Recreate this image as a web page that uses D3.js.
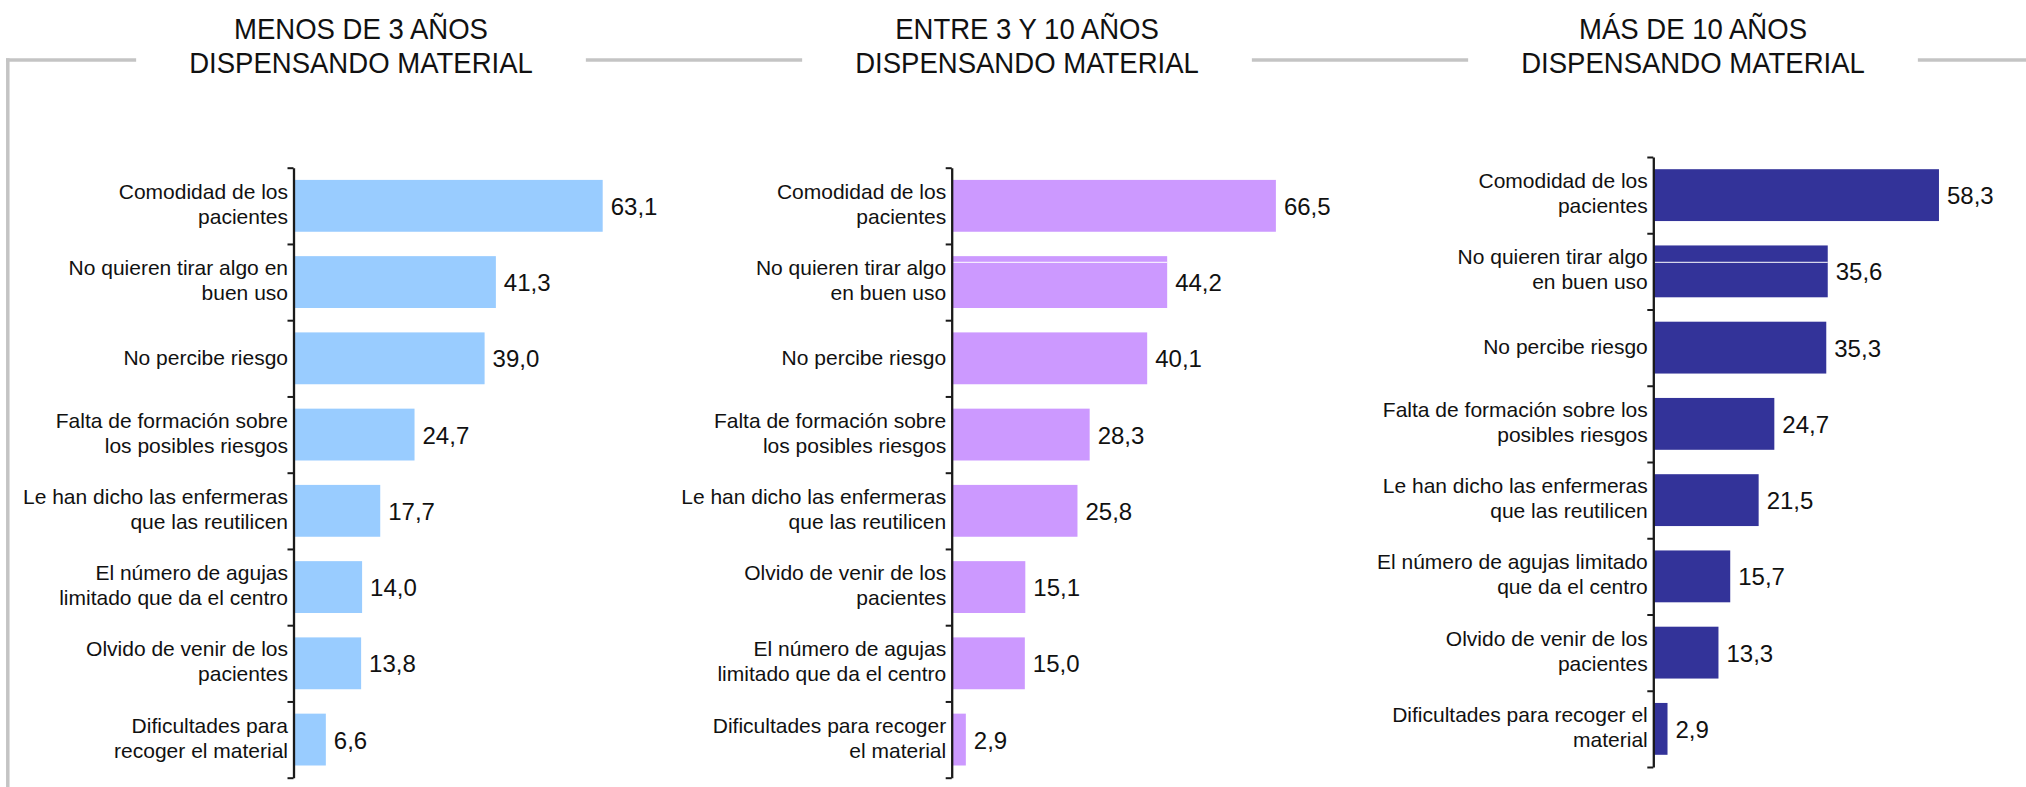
<!DOCTYPE html>
<meta charset="utf-8">
<style>
body{ margin:0; background:#fff; }
svg{ display:block; }
.cat, .val, .ttl{ font-family:"Liberation Sans", Arial, sans-serif; fill:#111; }
.cat{ font-size:21px; }
.val{ font-size:24px; }
.ttl{ font-size:29px; }
</style>
<body>
<script src="https://d3js.org/d3.v7.min.js"></script>
<script>
// panel titles
var titles1 = ["MENOS DE 3 AÑOS", "DISPENSANDO MATERIAL"];
var titles2 = ["ENTRE 3 Y 10 AÑOS", "DISPENSANDO MATERIAL"];
var titles3 = ["MÁS DE 10 AÑOS", "DISPENSANDO MATERIAL"];

// categories ("|" = line break), each panel has its own order
var cats1 = ["Comodidad de los|pacientes", "No quieren tirar algo en|buen uso", "No percibe riesgo",
  "Falta de formación sobre|los posibles riesgos", "Le han dicho las enfermeras|que las reutilicen",
  "El número de agujas|limitado que da el centro", "Olvido de venir de los|pacientes",
  "Dificultades para|recoger el material"];
var cats2 = ["Comodidad de los|pacientes", "No quieren tirar algo|en buen uso", "No percibe riesgo",
  "Falta de formación sobre|los posibles riesgos", "Le han dicho las enfermeras|que las reutilicen",
  "Olvido de venir de los|pacientes", "El número de agujas|limitado que da el centro",
  "Dificultades para recoger|el material"];
var cats3 = ["Comodidad de los|pacientes", "No quieren tirar algo|en buen uso", "No percibe riesgo",
  "Falta de formación sobre los|posibles riesgos", "Le han dicho las enfermeras|que las reutilicen",
  "El número de agujas limitado|que da el centro", "Olvido de venir de los|pacientes",
  "Dificultades para recoger el|material"];

// percentages
var vals1 = [63.1, 41.3, 39.0, 24.7, 17.7, 14.0, 13.8, 6.6];
var vals2 = [66.5, 44.2, 40.1, 28.3, 25.8, 15.1, 15.0, 2.9];
var vals3 = [58.3, 35.6, 35.3, 24.7, 21.5, 15.7, 13.3, 2.9];

var W = 2026, H = 787;
var TSX = 0.95;   // title squeeze
var fmt = function(v){ return d3.format(".1f")(v).replace(".", ","); };

var svg = d3.select("body").append("svg")
  .attr("width", W)
  .attr("height", H);

var panels = [
  {titles: titles1, cats: cats1, vals: vals1, color: "#99ccff", ax: 293.5, top: 167.7, w: 490, tx: 361, rule: false},
  {titles: titles2, cats: cats2, vals: vals2, color: "#cc99ff", ax: 951.7, top: 167.7, w: 487.5, tx: 1027, rule: true},
  {titles: titles3, cats: cats3, vals: vals3, color: "#333399", ax: 1653.3, top: 157, w: 490, tx: 1693, rule: true}
];

var frameY = 60;
var ruleY = 262.3;   // thin white rule seen across the second bars
var gaps = [];

panels.forEach(function(p){
  var n = p.cats.length;
  var band = 76.25;

  // title
  var tg = svg.append("g").attr("transform", "translate(" + p.tx + ",38.5) scale(" + TSX + ",1)");
  var t = tg.append("text").attr("class", "ttl").attr("text-anchor", "middle");
  t.selectAll("tspan").data(p.titles).enter().append("tspan")
    .attr("x", 0)
    .attr("dy", function(d, i){ return i ? 34.5 : 0; })
    .text(function(d){ return d; });
  var bb = t.node().getBBox();
  gaps.push([p.tx + bb.x * TSX - 53, p.tx + (bb.x + bb.width) * TSX + 53]);

  var g = svg.append("g").attr("transform", "translate(" + p.ax + "," + p.top + ")");

  var x = d3.scaleLinear().domain([0, 100]).range([0, p.w]);
  var y = d3.scaleBand().domain(p.cats).range([0, band * n]).paddingInner(0.32).paddingOuter(0.16);

  g.selectAll("rect.bar")
    .data(p.vals)
    .enter().append("rect")
    .attr("class", "bar")
    .attr("x", 0)
    .attr("y", function(d, i){ return y(p.cats[i]); })
    .attr("width", function(d){ return x(d); })
    .attr("height", y.bandwidth())
    .attr("fill", p.color);

  if (p.rule) {
    g.append("line")
      .attr("x1", 1).attr("x2", x(p.vals[1]))
      .attr("y1", ruleY - p.top).attr("y2", ruleY - p.top)
      .attr("stroke", "#fff")
      .attr("stroke-width", 1);
  }

  g.selectAll("text.val")
    .data(p.vals)
    .enter().append("text")
    .attr("class", "val")
    .attr("x", function(d){ return x(d) + 8; })
    .attr("y", function(d, i){ return y(p.cats[i]) + y.bandwidth() / 2; })
    .attr("dy", "0.38em")
    .text(fmt);

  // category labels, right aligned against the axis
  var lab = g.selectAll("text.cat")
    .data(p.cats)
    .enter().append("text")
    .attr("class", "cat")
    .attr("text-anchor", "end")
    .attr("y", function(d){ return y(d) + y.bandwidth() / 2; });
  lab.each(function(d){
    var lines = d.split("|");
    var el = d3.select(this);
    lines.forEach(function(l, i){
      el.append("tspan")
        .attr("x", -5.5)
        .attr("dy", i === 0 ? (6.5 - (lines.length - 1) * 13.5) : 25)
        .text(l);
    });
  });

  // axis with ticks at band boundaries
  var yl = d3.scaleLinear().domain([0, n]).range([0, band * n]);
  g.append("g")
    .call(d3.axisLeft(yl).ticks(n).tickSize(6).tickSizeOuter(0).tickFormat(""))
    .call(function(a){
      a.select(".domain").attr("stroke", "#1a1a1a").attr("stroke-width", 2.3);
      a.selectAll(".tick line").attr("stroke", "#1a1a1a").attr("stroke-width", 2);
    });
});

// grey frame: vertical on the left, horizontal broken around the titles
var segs = [];
var start = 6;
gaps.forEach(function(gp){ segs.push([start, gp[0]]); start = gp[1]; });
segs.push([start, W]);
svg.selectAll("line.frame")
  .data(segs)
  .enter().append("line")
  .attr("class", "frame")
  .attr("x1", function(d){ return d[0]; })
  .attr("x2", function(d){ return d[1]; })
  .attr("y1", frameY).attr("y2", frameY)
  .attr("stroke", "#c4c4c4")
  .attr("stroke-width", 3.5);
svg.append("line")
  .attr("x1", 7.8).attr("x2", 7.8)
  .attr("y1", frameY - 1.75).attr("y2", H)
  .attr("stroke", "#c4c4c4")
  .attr("stroke-width", 3.5);
</script>
</body>
